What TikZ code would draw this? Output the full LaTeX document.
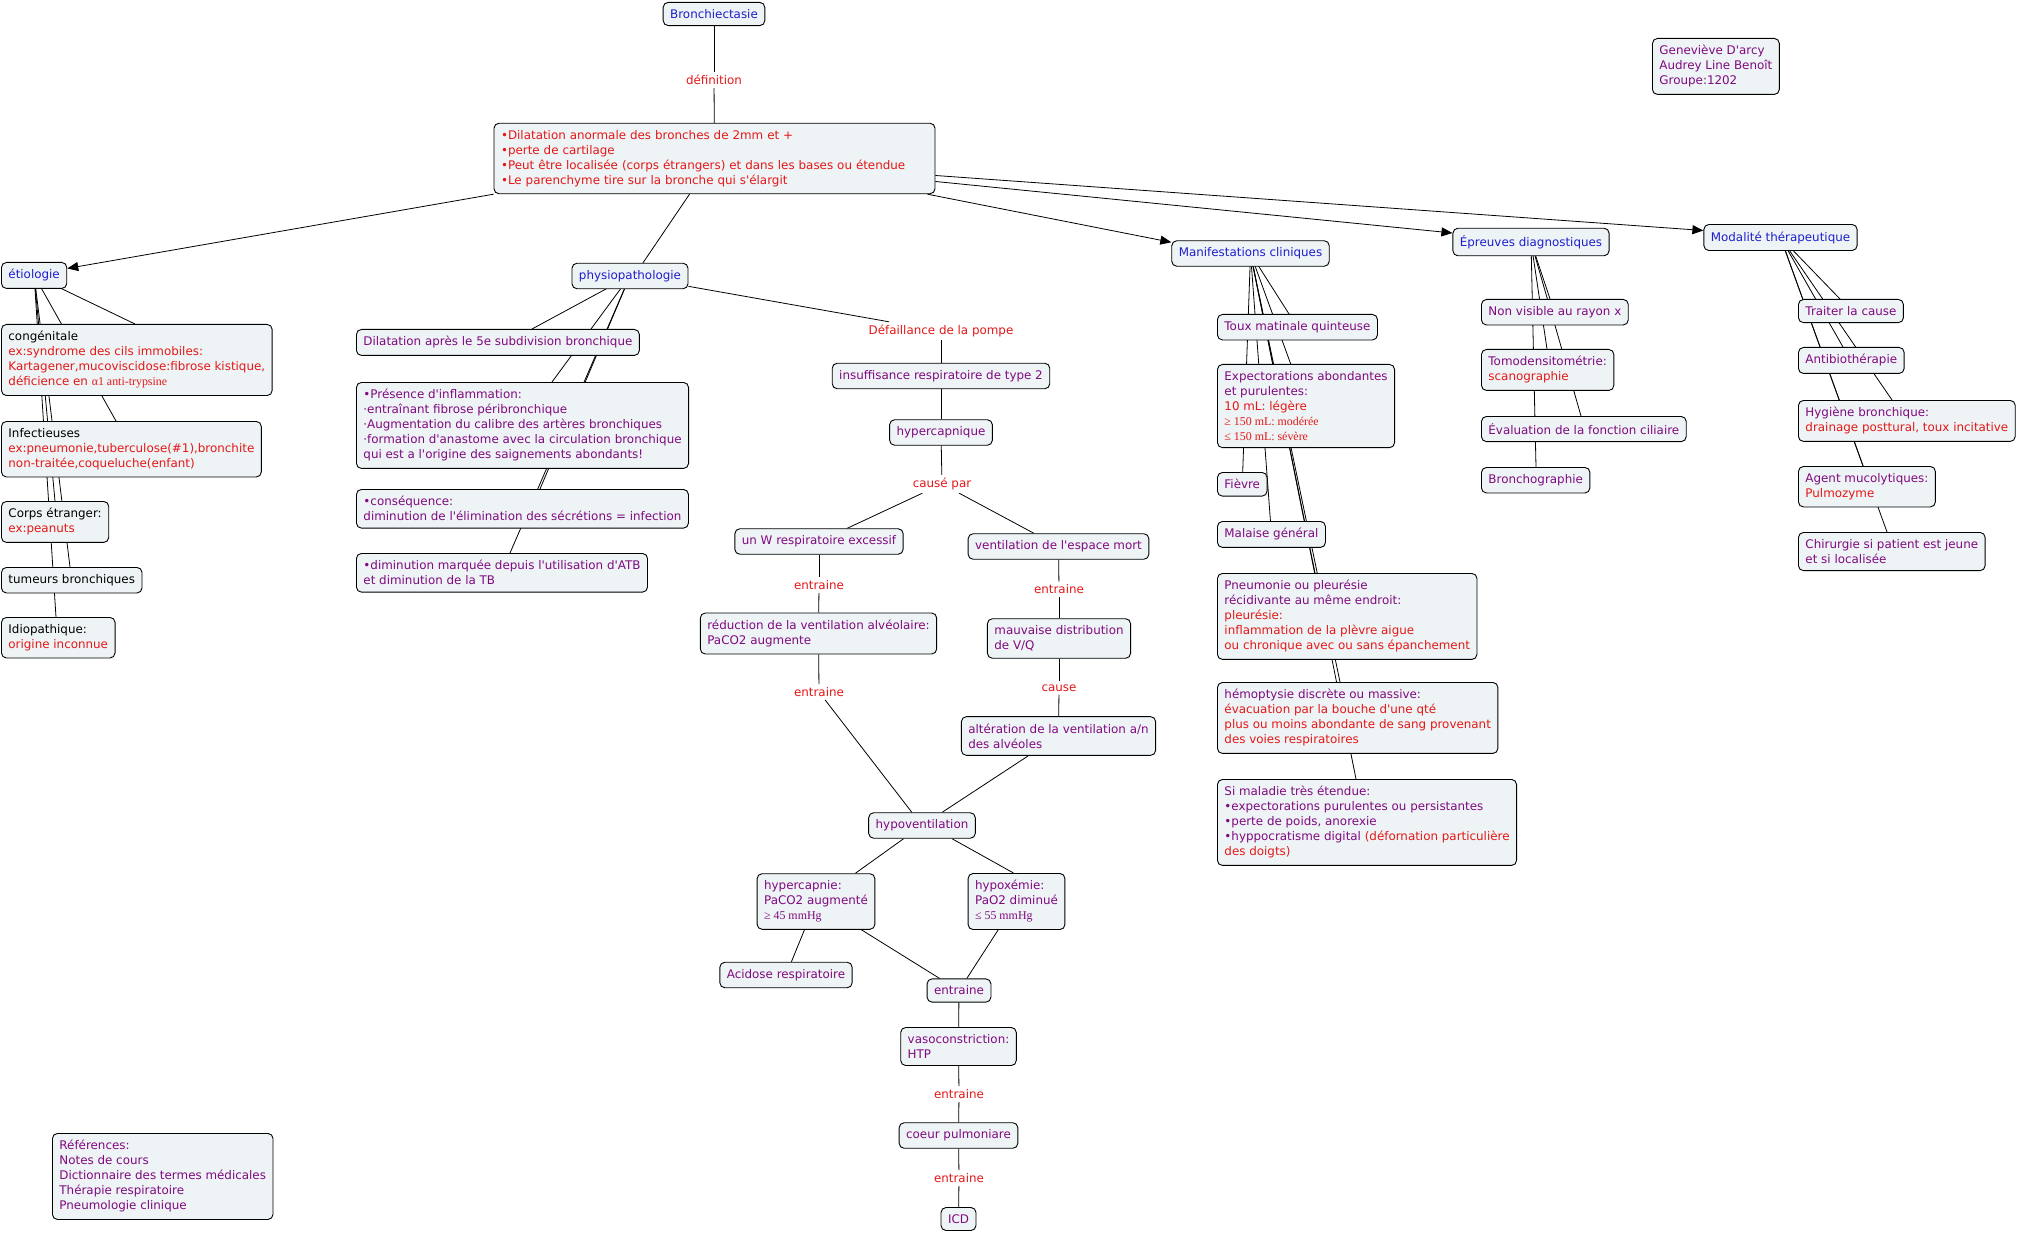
\documentclass[tikz,border=0pt]{standalone}
\usepackage{fontspec}
\setmainfont{DejaVu Sans}[Ligatures=TeXOff]
\newfontfamily\timesfont{Liberation Serif}
\usepackage{xcolor}
\usetikzlibrary{arrows.meta}
\usetikzlibrary{backgrounds}

\definecolor{mapblue}{RGB}{30,30,205}
\definecolor{mappurple}{RGB}{128,10,128}
\definecolor{mapred}{RGB}{228,24,24}
\definecolor{mapfill}{RGB}{238,243,245}
\newcommand{\rd}[1]{\textcolor{mapred}{#1}}
\newcommand{\tms}[1]{{\timesfont #1}}

\begin{document}
\begin{tikzpicture}[x=1pt,y=-1pt,font=\fontsize{11.9}{15}\selectfont]
  \tikzset{concept/.style = {shape=rectangle,draw,rounded corners=5pt,fill=mapfill,line width=0.9pt,inner xsep=7pt,inner ysep=7pt,align=left,text=mapblue}}
  \tikzset{item/.style = {concept,text=mappurple}}
  \tikzset{etiitem/.style = {concept,text=black}}
  \tikzset{phrase/.style = {text=mapred,inner sep=3pt}}
  \tikzset{link/.style = {line width=0.8pt}}
  \tikzset{%
  arrowhead/.tip={Triangle[length=11pt,width=9pt]},
}
  \tikzset{arrowlink/.style = {link,-arrowhead}}

  \useasboundingbox (0,0) rectangle (2022,1233);

	\node[concept] (bronch) at (714,14) {Bronchiectasie};
	\node[phrase] (defn) at (714,80) {définition};
	\node[concept,text=mapred,text width=427pt] (defbox) at (714.5,158.5) {•Dilatation anormale des bronches de 2mm et +\\•perte de cartilage\\•Peut être localisée (corps étrangers) et dans les bases ou étendue\\•Le parenchyme tire sur la bronche qui s'élargit};
	\node[item] (authors) [anchor=north west] at (1652,38) {Geneviève D'arcy\\Audrey Line Benoît\\Groupe:1202};

	\node[concept,anchor=north west] (etio) at (1,262) {étiologie};
	\node[concept] (physio) at (630,276) {physiopathologie};
	\node[concept] (manif) at (1250.5,253.5) {Manifestations cliniques};
	\node[concept] (epreuves) at (1531,242) {Épreuves diagnostiques};
	\node[concept] (modal) at (1780.5,237.5) {Modalité thérapeutique};

	% etiologie
	\node[etiitem,anchor=north west] (congen) at (1,324) {congénitale\\\rd{ex:syndrome des cils immobiles:}\\\rd{Kartagener,mucoviscidose:fibrose kistique,}\\\rd{déficience en \tms{α1 anti-trypsine}}};
	\node[etiitem,anchor=north west] (infect) at (1,421) {Infectieuses\\\rd{ex:pneumonie,tuberculose(\#1),bronchite}\\\rd{non-traitée,coqueluche(enfant)}};
	\node[etiitem,anchor=north west] (corps) at (1,501) {Corps étranger:\\\rd{ex:peanuts}};
	\node[etiitem,anchor=north west] (tumeurs) at (1,567) {tumeurs bronchiques};
	\node[etiitem,anchor=north west] (idio) at (1,617) {Idiopathique:\\\rd{origine inconnue}};

	% physiopathologie
	\node[item,anchor=north west] (dilat) at (356,329) {Dilatation après le 5e subdivision bronchique};
	\node[item,anchor=north west] (presence) at (356,382) {•Présence d'inflammation:\\·entraînant fibrose péribronchique\\·Augmentation du calibre des artères bronchiques\\·formation d'anastome avec la circulation bronchique\\qui est a l'origine des saignements abondants!};
	\node[item,anchor=north west] (conseq) at (356,489) {•conséquence:\\diminution de l'élimination des sécrétions = infection};
	\node[item,anchor=north west] (diminu) at (356,553) {•diminution marquée depuis l'utilisation d'ATB\\et diminution de la TB};

	\node[phrase] (defa) at (941,331) {Défaillance de la pompe};
	\node[item] (insuff) at (941,376) {insuffisance respiratoire de type 2};
	\node[item] (hyperq) at (941,432.5) {hypercapnique};
	\node[phrase] (causepar) at (942,484) {causé par};
	\node[item] (unw) at (819,541.5) {un W respiratoire excessif};
	\node[item] (ventmort) at (1058.5,546.5) {ventilation de l'espace mort};
	\node[phrase] (ent1) at (819,585) {entraine};
	\node[phrase] (ent2) at (1059,589.5) {entraine};
	\node[item] (reduc) at (818.5,633.5) {réduction de la ventilation alvéolaire:\\PaCO2 augmente};
	\node[item] (mauv) at (1059,638.5) {mauvaise distribution\\de V/Q};
	\node[phrase] (ent3) at (819,692) {entraine};
	\node[phrase] (causelbl) at (1059,688) {cause};
	\node[item] (alter) at (1058.5,736) {altération de la ventilation a/n\\des alvéoles};
	\node[item] (hypov) at (922,825.5) {hypoventilation};
	\node[item] (hcapnie) at (816,901.5) {hypercapnie:\\PaCO2 augmenté\\\tms{≥ 45 mmHg}};
	\node[item] (hoxemie) at (1016.5,901.5) {hypoxémie:\\PaO2 diminué\\\tms{≤ 55 mmHg}};
	\node[item] (acidose) at (786,975) {Acidose respiratoire};
	\node[item] (entbox) at (959,990.5) {entraine};
	\node[item] (vaso) at (958.5,1046.5) {vasoconstriction:\\HTP};
	\node[phrase] (ent4) at (959,1094) {entraine};
	\node[item] (coeur) at (958.5,1135.5) {coeur pulmoniare};
	\node[phrase] (ent5) at (959,1178) {entraine};
	\node[item] (icd) at (958.5,1219) {ICD};

	% manifestations
	\node[item,anchor=north west] (toux) at (1217,314) {Toux matinale quinteuse};
	\node[item,anchor=north west] (expect) at (1217,364) {Expectorations abondantes\\et purulentes:\\\rd{10 mL: légère}\\\rd{\tms{≥ 150 mL: modérée}}\\\rd{\tms{≤ 150 mL: sévère}}};
	\node[item,anchor=north west] (fievre) at (1217,472) {Fièvre};
	\node[item,anchor=north west] (malaise) at (1217,521) {Malaise général};
	\node[item,anchor=north west] (pneumo) at (1217,573) {Pneumonie ou pleurésie\\récidivante au même endroit:\\\rd{pleurésie:}\\\rd{inflammation de la plèvre aigue}\\\rd{ou chronique avec ou sans épanchement}};
	\node[item,anchor=north west] (hemo) at (1217,682) {hémoptysie discrète ou massive:\\\rd{évacuation par la bouche d'une qté}\\\rd{plus ou moins abondante de sang provenant}\\\rd{des voies respiratoires}};
	\node[item,anchor=north west] (simal) at (1217,779) {Si maladie très étendue:\\•expectorations purulentes ou persistantes\\•perte de poids, anorexie\\•hyppocratisme digital \rd{(défornation particulière}\\\rd{des doigts)}};

	% epreuves
	\node[item,anchor=north west] (nonvis) at (1481,299) {Non visible au rayon x};
	\node[item,anchor=north west] (tomo) at (1481,349) {Tomodensitométrie:\\\rd{scanographie}};
	\node[item,anchor=north west] (evalc) at (1481,416) {Évaluation de la fonction ciliaire};
	\node[item,anchor=north west] (broncho) at (1481,467) {Bronchographie};

	% modalite
	\node[item,anchor=north west] (traiter) at (1798,299) {Traiter la cause};
	\node[item,anchor=north west] (antibio) at (1798,347) {Antibiothérapie};
	\node[item,anchor=north west] (hygiene) at (1798,400) {Hygiène bronchique:\\\rd{drainage posttural, toux incitative}};
	\node[item,anchor=north west] (agent) at (1798,466) {Agent mucolytiques:\\\rd{Pulmozyme}};
	\node[item,anchor=north west] (chir) at (1798,532) {Chirurgie si patient est jeune\\et si localisée};

	\node[item,anchor=north west] (refs) at (52,1133) {Références:\\Notes de cours\\Dictionnaire des termes médicales\\Thérapie respiratoire\\Pneumologie clinique};

    \draw[arrowlink] (defbox.south west) -- ([yshift=7pt]etio.east);
    \draw[link] ([xshift=-25pt]defbox.south) -- ([xshift=13pt]physio.north);
    \draw[arrowlink] ([xshift=-8pt]defbox.south east) -- ([yshift=-2pt]manif.north west);
    \draw[arrowlink] ([yshift=-23pt]defbox.east) -- ([yshift=9pt]epreuves.west);
    \draw[arrowlink] ([yshift=-17pt]defbox.east) -- ([yshift=7pt]modal.west);

  \begin{scope}[on background layer]
    \fill[white] (0,0) rectangle (2022,1233);

    \foreach \from/\to in {bronch/defn, defn/defbox, physio/defa, defa/insuff, insuff/hyperq, hyperq/causepar, causepar/unw, causepar/ventmort, unw/ent1, ent1/reduc, ventmort/ent2, ent2/mauv, mauv/causelbl, causelbl/alter, reduc/ent3, ent3/hypov, alter/hypov, hypov/hcapnie, hcapnie/acidose, hcapnie/entbox, hoxemie/entbox, entbox/vaso, vaso/ent4, ent4/coeur, coeur/ent5, ent5/icd}
    \draw[link] (\from) -- (\to);

    \draw[link] ([xshift=30pt]hypov.south) -- ([xshift=-3pt]hoxemie.north);

    \foreach \from/\to in {manif/toux, manif/expect, manif/fievre, manif/malaise}
    \draw[link] (\from.center) -- (\to.center);

    \foreach \from/\to/\dx in {etio/congen/134, etio/infect/115, etio/corps/54, etio/tumeurs/69, etio/idio/55, physio/dilat/176, physio/presence/196, physio/conseq/184, physio/diminu/154, manif/pneumo/98, manif/hemo/123, manif/simal/139, epreuves/nonvis/69, epreuves/tomo/66, epreuves/evalc/100, epreuves/broncho/55, modal/traiter/42, modal/antibio/45, modal/hygiene/94, modal/agent/65, modal/chir/89}
    \draw[link] (\from.center) -- ([xshift=\dx pt]\to.north west);
  \end{scope}

\end{tikzpicture}
\end{document}
